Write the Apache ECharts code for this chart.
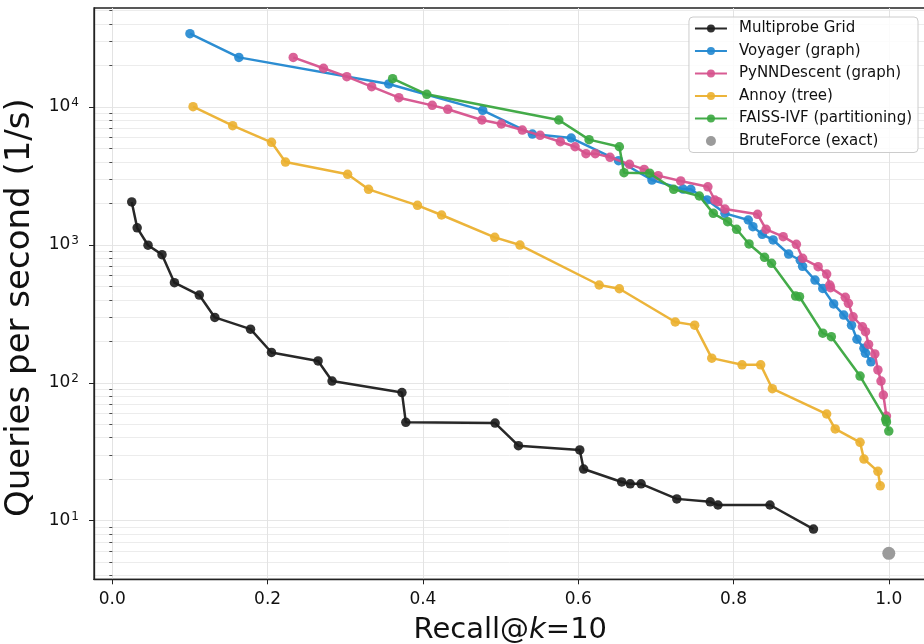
<!DOCTYPE html>
<html>
<head>
<meta charset="utf-8">
<script src="https://cdn.jsdelivr.net/npm/echarts@6/dist/echarts.min.js"></script>
<style>
html,body{margin:0;padding:0;background:#fff;}
#chart{width:924px;height:644px;}
</style>
</head>
<body>
<div id="chart"></div>
<script>
// ---- data ----
const seriesNames = ['Multiprobe Grid', 'Voyager (graph)', 'PyNNDescent (graph)', 'Annoy (tree)', 'FAISS-IVF (partitioning)', 'BruteForce (exact)'];

const mpRecall = [0.025, 0.032, 0.046, 0.064, 0.080, 0.112, 0.132, 0.178, 0.205, 0.265, 0.283, 0.373, 0.378, 0.493, 0.523, 0.602, 0.607, 0.656, 0.667, 0.681, 0.727, 0.770, 0.780, 0.847, 0.903];
const mpQps    = [2050, 1330, 995, 850, 532, 433, 298, 245, 166, 144, 103, 85, 51.7, 51.1, 35.0, 32.6, 23.7, 19.1, 18.5, 18.5, 14.4, 13.7, 13.0, 13.0, 8.7];

const voyRecall = [0.100, 0.163, 0.356, 0.477, 0.541, 0.591, 0.652, 0.695, 0.735, 0.745, 0.766, 0.789, 0.819, 0.825, 0.837, 0.851, 0.871, 0.886, 0.889, 0.905, 0.915, 0.929, 0.942, 0.952, 0.959, 0.968, 0.970, 0.977];
const voyQps    = [34000, 22900, 14700, 9460, 6370, 5960, 4080, 2955, 2540, 2530, 2120, 1694, 1516, 1355, 1193, 1086, 859, 774, 700, 556, 484, 373, 310, 262, 207, 178, 164, 142];

const pynnRecall = [0.233, 0.272, 0.302, 0.334, 0.369, 0.412, 0.432, 0.476, 0.501, 0.528, 0.551, 0.577, 0.596, 0.610, 0.622, 0.641, 0.666, 0.685, 0.703, 0.732, 0.767, 0.776, 0.780, 0.789, 0.831, 0.842, 0.864, 0.881, 0.889, 0.909, 0.920, 0.924, 0.925, 0.944, 0.948, 0.954, 0.966, 0.970, 0.974, 0.982, 0.986, 0.990, 0.993, 0.997];
const pynnQps    = [22900, 19100, 16600, 14040, 11690, 10280, 9630, 8050, 7530, 6810, 6230, 5600, 5150, 4590, 4590, 4320, 3840, 3530, 3180, 2910, 2640, 2117, 2057, 1820, 1667, 1298, 1148, 1010, 800, 695, 615, 512, 490, 417, 377, 301, 255, 235, 190, 162, 124, 103, 81.6, 57.4];

const annoyRecall = [0.104, 0.155, 0.205, 0.223, 0.303, 0.330, 0.393, 0.424, 0.4925, 0.525, 0.627, 0.653, 0.725, 0.750, 0.772, 0.811, 0.835, 0.850, 0.920, 0.931, 0.963, 0.968, 0.986, 0.989];
const annoyQps    = [10050, 7320, 5545, 3990, 3250, 2530, 1937, 1648, 1135, 998, 512, 481, 276, 262, 151, 135, 135, 90.6, 59.4, 46.3, 37.0, 28.0, 22.8, 17.9];

const faissRecall = [0.361, 0.405, 0.575, 0.614, 0.653, 0.659, 0.692, 0.723, 0.756, 0.774, 0.7925, 0.804, 0.820, 0.840, 0.849, 0.880, 0.885, 0.915, 0.926, 0.963, 0.996, 0.997, 1.0];
const faissQps    = [16040, 12360, 8050, 5800, 5150, 3340, 3310, 2530, 2263, 1694, 1473, 1298, 1016, 813, 736, 426, 421, 229, 216, 112, 54.4, 52, 44.7];

const bruteRecall = [1.0];
const bruteQps    = [5.8];

const xTicks = [0, 0.2, 0.4, 0.6, 0.8, 1.0];
const yMajorTicks = [10, 100, 1000, 10000];
const yMinorTicks = [4, 5, 6, 7, 8, 9, 20, 30, 40, 50, 60, 70, 80, 90, 200, 300, 400, 500, 600, 700, 800, 900, 2000, 3000, 4000, 5000, 6000, 7000, 8000, 9000, 20000, 30000, 40000, 50000];

const colors = ['#1c1c1c', '#2187d0', '#d6528d', '#ebb02f', '#3aa73f', '#9b9b9b'];

// ---- chart ----
const zip = (a, b) => a.map((v, i) => [v, b[i]]);
const FONT = 'DejaVu Sans';

function lineSeries(idx, xs, ys) {
  return {
    name: seriesNames[idx],
    type: 'line',
    data: zip(xs, ys),
    xAxisIndex: 0,
    yAxisIndex: 0,
    symbol: 'circle',
    symbolSize: 9.5,
    showSymbol: true,
    lineStyle: { width: 2.5, color: colors[idx], opacity: 0.95 },
    itemStyle: { color: colors[idx], opacity: 0.9 },
    emphasis: { disabled: true },
    z: 2 + idx
  };
}

const chart = echarts.init(document.getElementById('chart'), null, { renderer: 'canvas' });
chart.setOption({
  animation: false,
  backgroundColor: '#ffffff',
  textStyle: { fontFamily: FONT },
  grid: {
    left: 94, top: 8, right: -2.6, bottom: 64.7,
    containLabel: false,
    outerBoundsMode: 'none',
    show: true,
    borderColor: '#222',
    borderWidth: 1.3,
    backgroundColor: 'transparent'
  },
  legend: {
    right: 6,
    top: 17,
    orient: 'vertical',
    align: 'left',
    backgroundColor: 'rgba(255,255,255,0.85)',
    borderColor: '#cccccc',
    borderWidth: 1,
    borderRadius: 4,
    padding: [4, 6, 4, 5],
    itemWidth: 32,
    itemHeight: 10,
    itemGap: 7.5,
    textStyle: { fontFamily: FONT, fontSize: 15, color: '#111', lineHeight: 15, padding: [0, 0, 0, 7] },
    data: seriesNames.map((n, i) => i === 5 ? { name: n, icon: 'circle' } : { name: n })
  },
  xAxis: {
    type: 'value',
    min: -0.0236,
    max: 1.0487,
    name: 'Recall@{i|k}=10',
    nameLocation: 'middle',
    nameGap: 37,
    nameTextStyle: {
      fontFamily: FONT, fontSize: 29, color: '#111',
      rich: { i: { fontFamily: FONT, fontStyle: 'italic', fontSize: 29, color: '#111' } }
    },
    axisLine: { show: true, onZero: false, lineStyle: { color: '#222', width: 1.3 } },
    axisTick: { show: true, inside: false, length: 5, customValues: xTicks, lineStyle: { color: '#222', width: 1 } },
    axisLabel: {
      show: true, customValues: xTicks, margin: 12,
      fontFamily: FONT, fontSize: 17, color: '#111',
      formatter: v => v.toFixed(1)
    },
    splitLine: { show: true, lineStyle: { color: '#e3e3e3', width: 1 } }
  },
  yAxis: [
    {
      type: 'log',
      logBase: 10,
      min: 3.76,
      max: 52240,
      position: 'left',
      name: 'Queries per second (1/s)',
      nameLocation: 'middle',
      nameRotate: 90,
      nameGap: 57,
      nameTextStyle: { fontFamily: FONT, fontSize: 34, color: '#111', padding: [0, 28, 0, 0] },
      axisLine: { show: true, onZero: false, lineStyle: { color: '#222', width: 1.3 } },
      axisTick: { show: true, length: 5, customValues: yMajorTicks, lineStyle: { color: '#222', width: 1 } },
      axisLabel: {
        show: true, customValues: yMajorTicks, margin: 15,
        fontFamily: FONT, color: '#111',
        formatter: v => '{b|10}{s|' + Math.round(Math.log10(v)) + '}',
        rich: {
          b: { fontFamily: FONT, fontSize: 17, color: '#111' },
          s: { fontFamily: FONT, fontSize: 12, color: '#111', padding: [0, 0, 8, 1] }
        }
      },
      splitLine: { show: true, lineStyle: { color: '#e6e6e6', width: 1 } }
    },
    {
      type: 'log',
      logBase: 10,
      min: 3.76,
      max: 52240,
      position: 'left',
      offset: 0,
      axisLine: { show: false },
      axisTick: { show: true, length: 3, customValues: yMinorTicks, lineStyle: { color: '#222', width: 0.8 } },
      axisLabel: { show: false },
      splitLine: { show: true, lineStyle: { color: '#ececec', width: 1 } }
    }
  ],
  series: [
    lineSeries(0, mpRecall, mpQps),
    lineSeries(1, voyRecall, voyQps),
    lineSeries(2, pynnRecall, pynnQps),
    lineSeries(3, annoyRecall, annoyQps),
    lineSeries(4, faissRecall, faissQps),
    {
      name: seriesNames[5],
      type: 'scatter',
      data: zip(bruteRecall, bruteQps),
      symbol: 'circle',
      symbolSize: 13,
      itemStyle: { color: colors[5], opacity: 1 },
      emphasis: { disabled: true },
      z: 8
    }
  ]
});
</script>
</body>
</html>
